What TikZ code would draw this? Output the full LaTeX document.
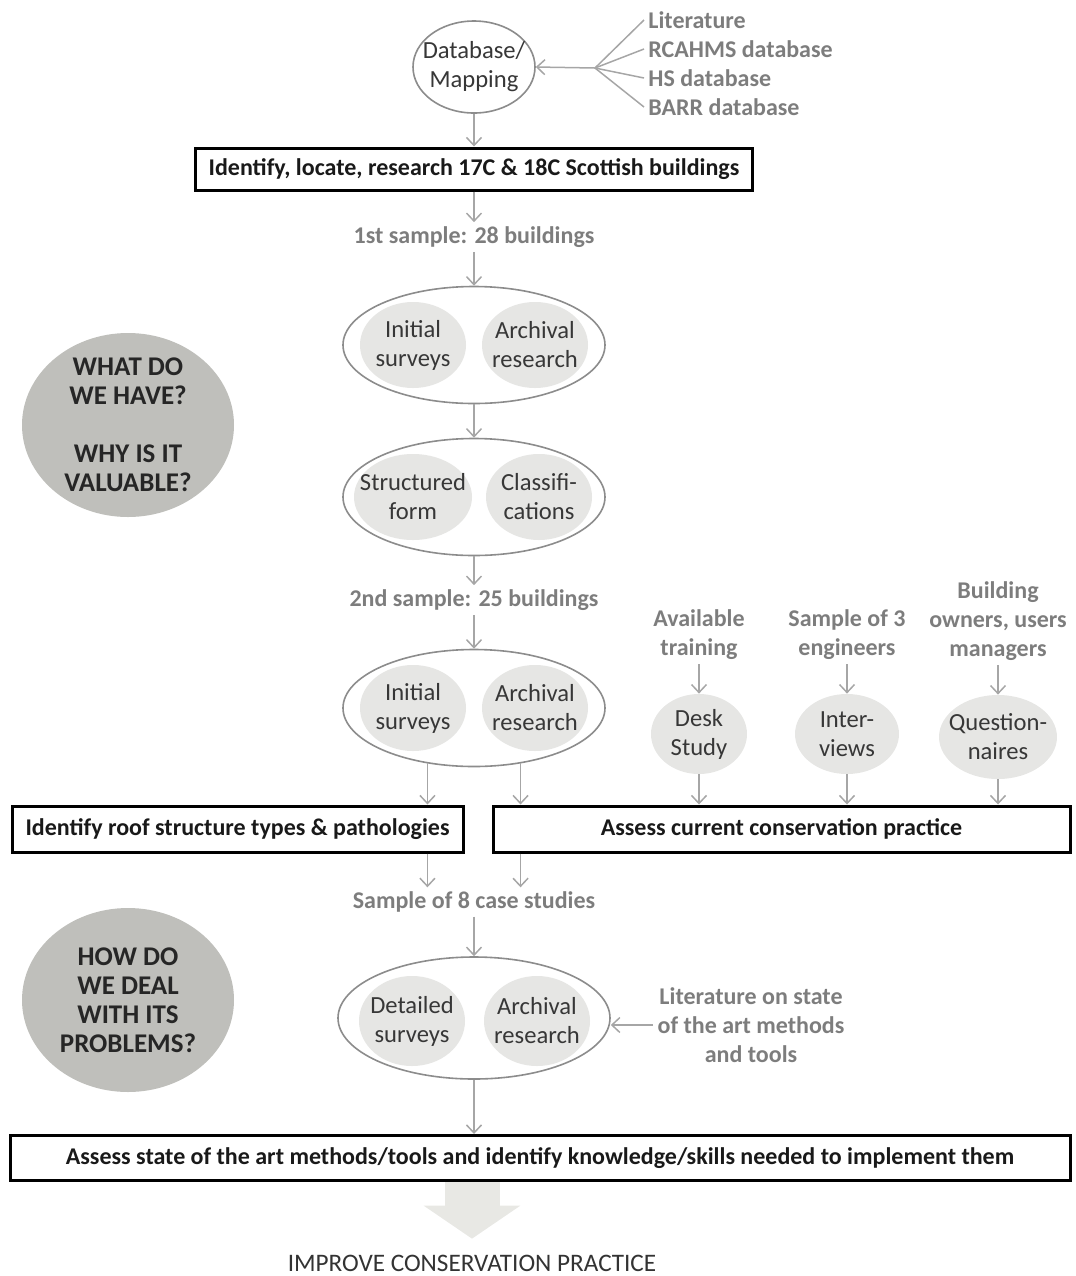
\documentclass[tikz,border=0pt]{standalone}
\usepackage{fontspec}
\setmainfont{Carlito}
\usetikzlibrary{arrows.meta, shapes.geometric, calc}

\definecolor{arrowgray}{RGB}{166,166,166}
\definecolor{rimgray}{RGB}{140,140,140}
\definecolor{lblgray}{RGB}{125,125,125}
\definecolor{ovalfill}{RGB}{230,230,228}
\definecolor{qfill}{RGB}{191,191,187}
\definecolor{bigfill}{RGB}{232,232,228}
\definecolor{darktxt}{RGB}{55,55,55}

\begin{document}
\begin{tikzpicture}[x=0.5pt, y=-0.5pt,
  every node/.style={font=\fontsize{12}{14.5}\selectfont},
  arr/.style={draw=arrowgray, line width=0.75pt, -{Straight Barb[length=4pt, width=7.5pt]}},
  fanline/.style={draw=arrowgray, line width=0.75pt},
  outer/.style={ellipse, draw=rimgray, line width=0.8pt, fill=white, inner sep=0pt,
    minimum width=131pt, minimum height=58.5pt},
  oval/.style={ellipse, fill=ovalfill, inner sep=0pt, minimum width=53pt, minimum height=43pt},
  intxt/.style={text=darktxt, align=center, inner sep=0pt, font=\fontsize{12.3}{14.5}\selectfont},
  graylbl/.style={text=lblgray, font=\fontsize{12}{14.5}\selectfont\bfseries, align=center, inner sep=2pt},
  box/.style={draw=black, line width=1.5pt, fill=white, inner sep=0pt, minimum height=23pt,
    font=\fontsize{12}{14.5}\selectfont\bfseries, text=black!90},
  bigq/.style={ellipse, fill=qfill, minimum width=106pt, minimum height=92pt, inner sep=0pt},
  qtxt/.style={text=black!85, align=center, inner sep=0pt, font=\fontsize{13.5}{14.5}\selectfont\bfseries},
  bigarr/.style={draw=bigfill, line width=27.5pt, -{Triangle[length=16.5pt 0, width=47.5pt 0]}}
]
\useasboundingbox (0,0) rectangle (1076,1276);

% Questions on the left
\node[bigq, label={[qtxt]center:WHAT DO\\WE HAVE?\\[14.5pt]WHY IS IT\\VALUABLE?}] (q1) at (128,425) {};
\node[bigq, label={[qtxt]center:HOW DO\\WE DEAL\\WITH ITS\\PROBLEMS?}] (q2) at (128,1000) {};

% Sources and database
\node[outer, minimum width=61pt, minimum height=46pt, label={[intxt]center:Database/\\Mapping}] (db) at (474,67) {};
\coordinate (fan) at (595,68);
\node[graylbl, anchor=west] (src1) at (644,20) {Literature};
\node[graylbl, anchor=west] (src2) at (644,49) {RCAHMS database};
\node[graylbl, anchor=west] (src3) at (644,78) {HS database};
\node[graylbl, anchor=west] (src4) at (644,107) {BARR database};
\foreach \s in {src1,src2,src3,src4}
  \draw[fanline] (fan) -- (\s.west);
\draw[arr] (fan) -- (db.east);

\node[box, minimum width=278.5pt, minimum height=21pt] (ident) at (474,169) {Identify, locate, research 17C \& 18C Scottish buildings};
\draw[arr] (db) -- (ident);

% First sample
\node[graylbl] (samp1) at (474,237) {1st sample: 28 buildings};
\draw[arr] (ident) -- (samp1);

\node[outer] (e1) at (474,345) {};
\node[oval, label={[intxt]center:Initial\\surveys}] (e1a) at (413,345) {};
\node[oval, label={[intxt]center:Archival\\research}] (e1b) at (535,345) {};
\draw[arr] (samp1) -- (e1);

\node[outer] (e2) at (474,497) {};
\node[oval, minimum width=59pt, label={[intxt]center:Structured\\form}] (e2a) at (413,497) {};
\node[oval, label={[intxt]center:Classifi-\\cations}] (e2b) at (539,497) {};
\draw[arr] (e1) -- (e2);

% Second sample
\node[graylbl] (samp2) at (474,600) {2nd sample: 25 buildings};
\draw[arr] (e2) -- (samp2);

\node[outer] (e3) at (474,708) {};
\node[oval, label={[intxt]center:Initial\\surveys}] (e3a) at (413,708) {};
\node[oval, label={[intxt]center:Archival\\research}] (e3b) at (535,708) {};
\draw[arr] (samp2) -- (e3);

% Current practice
\node[graylbl] (src5) at (699,635) {Available\\training};
\node[graylbl] (src6) at (847,635) {Sample of 3\\engineers};
\node[graylbl] (src7) at (998,621) {Building\\owners, users\\managers};
\node[oval, minimum width=48pt, minimum height=40pt, label={[intxt]center:Desk\\Study}] (desk) at (699,734) {};
\node[oval, minimum width=52pt, minimum height=40pt, label={[intxt]center:Inter-\\views}] (inter) at (847,734) {};
\node[oval, minimum width=59pt, minimum height=42pt, label={[intxt]center:Question-\\naires}] (quest) at (998,737) {};
\draw[arr] (src5) -- (desk);
\draw[arr] (src6) -- (inter);
\draw[arr] (src7) -- (quest);

\node[box, minimum width=225.5pt] (roof) at (237.5,829) {Identify roof structure types \& pathologies};
\node[box, minimum width=288.5pt] (assess) at (781.5,829) {Assess current conservation practice};
\draw[arr] (e3.230) -- (e3.230 |- roof.north);
\draw[arr] (e3.310) -- (e3.310 |- assess.north);
\foreach \o in {desk,inter,quest}
  \draw[arr] (\o) -- (\o |- assess.north);

% Case studies
\node[graylbl] (samp3) at (474,902) {Sample of 8 case studies};
\draw[arr] (e3.230 |- roof.south) -- (e3.230 |- samp3.north);
\draw[arr] (e3.310 |- assess.south) -- (e3.310 |- samp3.north);

\node[outer, minimum width=136pt, minimum height=61pt] (e4) at (474,1018) {};
\node[oval, minimum height=45pt, label={[intxt]center:Detailed\\surveys}] (e4a) at (412,1021) {};
\node[oval, minimum height=45pt, label={[intxt]center:Archival\\research}] (e4b) at (537,1021) {};
\draw[arr] (samp3) -- (e4);
\node[graylbl] (litst) at (751,1025) {Literature on state\\of the art methods\\and tools};
\draw[arr] (litst.west) -- (litst.west -| e4.east);

\node[box, minimum width=530pt, minimum height=22.5pt] (final) at (540,1158) {Assess state of the art methods/tools and identify knowledge/skills needed to implement them};
\draw[arr] (e4) -- (e4 |- final.north);

% Outcome
\node[text=black!80, font=\fontsize{12.6}{14.5}\selectfont] (improve) at (472,1263) {IMPROVE CONSERVATION PRACTICE};
\draw[bigarr, shorten >=4.5pt] (final.south -| improve) -- (improve.north);

\end{tikzpicture}
\end{document}
